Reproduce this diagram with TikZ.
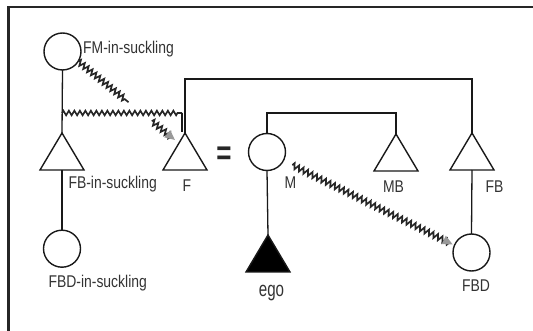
\documentclass[tikz,border=0pt]{standalone}
\usepackage{fontspec}
\usepackage{graphicx}
\setmainfont[FakeStretch=0.82]{Liberation Sans}
\newfontfamily\egofont[FakeStretch=0.72]{Liberation Sans}
\newfontfamily\eqfont{Liberation Sans}
\usetikzlibrary{shapes.geometric,decorations.pathmorphing,arrows.meta,calc}
\begin{document}
\begin{tikzpicture}[x=1pt,y=-1pt,
  lw/.style={line width=1.3pt, draw=black!90},
  person/.style={circle, draw=black!90, line width=1.4pt, minimum size=37pt, inner sep=0pt, outer sep=0pt},
  male/.style={isosceles triangle, isosceles triangle stretches, shape border rotate=90,
     draw=black!90, line width=1.4pt, minimum width=44pt, minimum height=37pt, inner sep=0pt, outer sep=0pt, anchor=apex},
  zz/.style={decorate, decoration={zigzag, segment length=5pt, amplitude=2.8pt, pre length=0pt, post length=3pt},
     line width=1.7pt, draw=black!85},
  arr/.style={-{Triangle[length=10pt,width=9pt,color=black!40]}},
  lab/.style={inner sep=0pt, text=black!80, font=\fontsize{17}{20}\selectfont}
]
\useasboundingbox (0,0) rectangle (533,331);
% frame
\draw[line width=2.5pt, black!85] (8.7,331) -- (8.7,7) -- (533,7);

% people
\node[person] (FM) at (62.5,51.5) {};
\node[male] (FBins) at (62,133) {};
\node[person] (FBDins) at (62,248.7) {};
\node[male] (F) at (185,133) {};
\node[person] (M) at (267,152) {};
\node[male] (MB) at (396,134) {};
\node[male] (FB) at (472,133) {};
\node[person] (FBD) at (471.5,252.5) {};
\node[male, fill=black] (ego) at (268,235) {};

% helper coordinates
\coordinate (topbar) at (0,79);
\coordinate (mbar) at (0,113);
\coordinate (zz1) at (62,113);
\coordinate (zz2) at (182,113);
\coordinate (zz3) at (182,132);

% kin lines
\draw[lw] (FM.south) -- (FBins.apex);
\draw[lw] (FBins.south) -- (FBDins.north);
\draw[lw] (F.apex) -- (F.apex |- topbar) -| (FB.apex);
\draw[lw] (M.north) -- (M.north |- mbar) -| (MB.apex);
\draw[lw] (M.south) -- (ego.apex);
\draw[lw] (FB.south) -- (FBD.north);

% milk kinship (zigzags)
\draw[zz, decoration={segment length=5.5pt, amplitude=2.3pt}] (zz1) -- (zz2);
\draw[lw] (zz2) -- (zz3);

\coordinate (d1) at (FM.-32);
\coordinate (d4) at (175,140);
\coordinate (d2) at ($(d1)!0.52!(d4)$);
\coordinate (d3) at ($(d1)!0.76!(d4)$);
\draw[zz] (d1) -- (d2);
\draw[zz, arr] (d3) -- (d4);

\coordinate (ms) at ($(M.-28)!10pt!(FBD.157)$);
\coordinate (me) at ($(FBD.157)!2pt!(M.-28)$);
\draw[zz, arr] (ms) -- (me);

% equals
\node[inner sep=0pt, text=black!85] (eq) at (224,156) {\eqfont\fontsize{26}{26}\selectfont\bfseries\scalebox{1}[1.3]{=}};

% labels
\node[lab, anchor=base west] (lFM) at (83,53.3) {FM-in-suckling};
\node[lab, anchor=base west] (lFBins) at (68.3,188.3) {FB-in-suckling};
\node[lab, anchor=base west] (lFBDins) at (48.3,287.3) {FBD-in-suckling};
\node[lab, anchor=base] (lF) at (187,191.7) {F};
\node[lab, anchor=base] (lM) at (290.5,188.3) {M};
\node[lab, anchor=base] (lMB) at (393.5,192.7) {MB};
\node[lab, anchor=base] (lFB) at (494.5,192.7) {FB};
\node[lab, anchor=base] (lFBD) at (476,291) {FBD};
\node[inner sep=0pt, text=black!80, anchor=base] (lego) at (271.5,296.7) {\egofont\fontsize{21}{24}\selectfont ego};
\end{tikzpicture}
\end{document}
